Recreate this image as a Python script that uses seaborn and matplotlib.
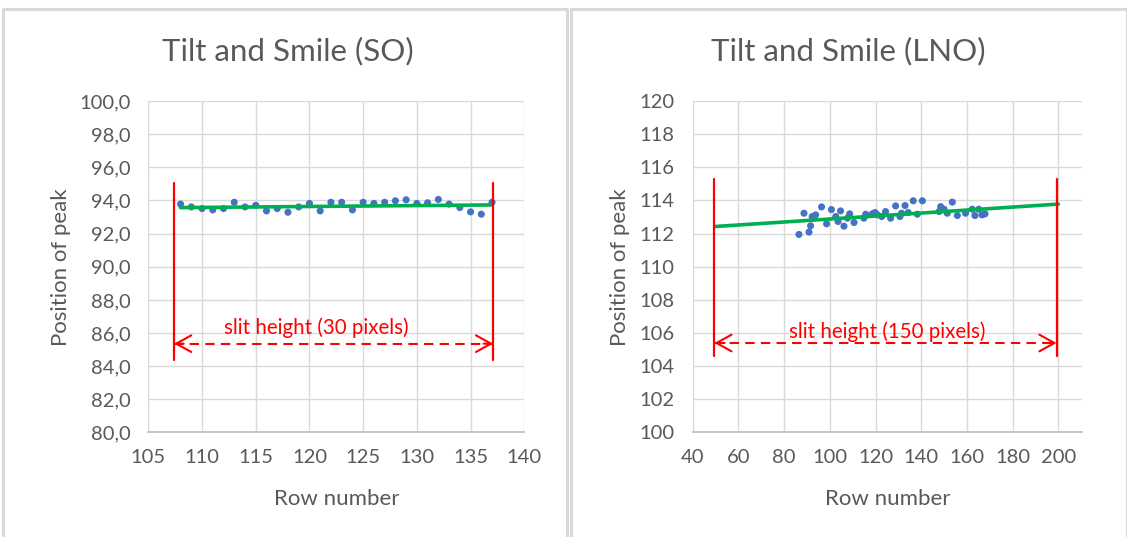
import numpy as np
import pandas as pd
import matplotlib
matplotlib.use("Agg")
import matplotlib.pyplot as plt
from matplotlib.lines import Line2D
from matplotlib.ticker import FuncFormatter
import seaborn as sns

# SO channel: row number vs peak position
so_rows = list(range(108, 138))
so_peak = [93.78, 93.61, 93.51, 93.43, 93.51, 93.89, 93.61, 93.71, 93.37, 93.51,
           93.29, 93.61, 93.82, 93.37, 93.89, 93.89, 93.43, 93.89, 93.82, 93.89,
           93.98, 94.04, 93.82, 93.86, 94.06, 93.78, 93.57, 93.31, 93.17, 93.89]
so_trend_x = [108, 137]
so_trend_y = [93.57, 93.73]
so_slit = [107.4, 137.1]

# LNO channel
lno_rows = [86.5, 88.7, 90.9, 91.6, 92.3, 93.8, 96.4, 98.6, 100.7, 102.6,
            103.6, 104.7, 106.2, 107.7, 108.7, 110.6, 114.9, 115.7, 118.6, 119.8,
            120.8, 122.7, 124.4, 126.6, 128.8, 130.7, 131.4, 132.9, 134.3, 136.5,
            138.3, 140.5, 147.8, 148.5, 150.0, 151.4, 153.6, 155.8, 159.4, 162.3,
            163.5, 165.2, 166.6, 167.9]
lno_peak = [111.95, 113.23, 112.09, 112.47, 113.03, 113.13, 113.61, 112.59, 113.45, 113.03,
            112.73, 113.37, 112.45, 112.93, 113.19, 112.67, 112.93, 113.17, 113.19, 113.27,
            113.13, 113.03, 113.33, 112.93, 113.67, 113.03, 113.23, 113.69, 113.27, 113.98,
            113.17, 113.98, 113.33, 113.63, 113.47, 113.23, 113.90, 113.09, 113.23, 113.47,
            113.09, 113.47, 113.13, 113.19]
lno_trend_x = [50, 200]
lno_trend_y = [112.43, 113.78]
lno_slit = [49.5, 199.2]

so_df = pd.DataFrame({"row": so_rows, "peak": so_peak})
lno_df = pd.DataFrame({"row": lno_rows, "peak": lno_peak})

sns.set_theme(style="white")
plt.rcParams["font.family"] = ["Lato", "DejaVu Sans"]

TXT = "#595959"
GRID = "#d9d9d9"
BLUE = "#4472c4"
GREEN = "#00b050"
RED = "#ff0000"

fig = plt.figure(figsize=(11.27, 5.37), dpi=100)
ax1 = fig.add_axes([0.1316, 0.1946, 0.3336, 0.6173])
ax2 = fig.add_axes([0.6146, 0.1946, 0.3458, 0.6173])

# panel frames
W, H = 1127, 537
for x0, x1 in [(3, 567), (571, 1127)]:
    fig.add_artist(Line2D([x0 / W, x1 / W], [1 - 9 / H, 1 - 9 / H], color=GRID, lw=2.2))
    fig.add_artist(Line2D([x0 / W, x0 / W], [0, 1 - 9 / H], color=GRID, lw=2.2))
    fig.add_artist(Line2D([x1 / W, x1 / W], [0, 1 - 9 / H], color=GRID, lw=2.2))


def style(ax, xlim, xticks, ylim, yticks, yfmt, ylab_x):
    ax.set_xlim(*xlim)
    ax.set_ylim(*ylim)
    ax.set_xticks(xticks)
    ax.set_yticks(yticks)
    ax.yaxis.set_major_formatter(FuncFormatter(yfmt))
    ax.grid(True, color=GRID, lw=1)
    ax.set_axisbelow(True)
    for s in ["top", "right", "left"]:
        ax.spines[s].set_visible(False)
    ax.spines["bottom"].set_color("#bfbfbf")
    ax.tick_params(axis="both", length=0, labelsize=14.5, colors=TXT)
    ax.tick_params(axis="y", pad=13)
    ax.tick_params(axis="x", pad=12)
    ax.set_xlabel("Row number", fontsize=16, color=TXT)
    ax.set_ylabel("Position of peak", fontsize=16, color=TXT)
    ax.yaxis.set_label_coords(ylab_x, 0.5)
    ax.xaxis.set_label_coords(0.5, -0.17)


def slit(ax, xs, y0, y1, ya, text, tx, ty):
    for x in xs:
        ax.plot([x, x], [y0, y1], color=RED, lw=1.6, zorder=4)
    ax.plot([xs[0], xs[1]], [ya, ya], color=RED, lw=1.5, ls=(0, (4.5, 3)), zorder=4)
    span = xs[1] - xs[0]
    for a, b in [(xs[0], xs[0] + span * 0.03), (xs[1], xs[1] - span * 0.03)]:
        ax.annotate("", xy=(a, ya), xytext=(b, ya),
                    arrowprops=dict(arrowstyle="->,head_length=0.9,head_width=0.5",
                                    color=RED, lw=1.5, shrinkA=0, shrinkB=0), zorder=5)
    ax.text(tx, ty, text, color=RED, fontsize=14.8, ha="center", va="center", zorder=5)


# SO panel
sns.scatterplot(data=so_df, x="row", y="peak", ax=ax1, color=BLUE, s=26,
                edgecolor="none", zorder=3)
sns.lineplot(x=so_trend_x, y=so_trend_y, ax=ax1, color=GREEN, lw=2.6, zorder=3)
style(ax1, (105, 140), range(105, 141, 5), (80, 100), np.arange(80, 101, 2),
      lambda v, p: f"{v:.1f}".replace(".", ","), -0.205)
slit(ax1, so_slit, 84.35, 95.07, 85.36, "slit height (30 pixels)", 120.6, 86.3)

# LNO panel
sns.scatterplot(data=lno_df, x="row", y="peak", ax=ax2, color=BLUE, s=26,
                edgecolor="none", zorder=3)
sns.lineplot(x=lno_trend_x, y=lno_trend_y, ax=ax2, color=GREEN, lw=2.6, zorder=3)
style(ax2, (40, 210.5), range(40, 201, 20), (100, 120), np.arange(100, 121, 2),
      lambda v, p: f"{v:.0f}", -0.16)
slit(ax2, lno_slit, 104.6, 115.3, 105.4, "slit height (150 pixels)", 124.9, 106.1)

fig.text(288 / W, 1 - 51 / H, "Tilt and Smile (SO)", fontsize=22.5, color=TXT,
         ha="center", va="center")
fig.text(848 / W, 1 - 51 / H, "Tilt and Smile (LNO)", fontsize=22.5, color=TXT,
         ha="center", va="center")

fig.savefig("out.png", dpi=100, facecolor="white")
